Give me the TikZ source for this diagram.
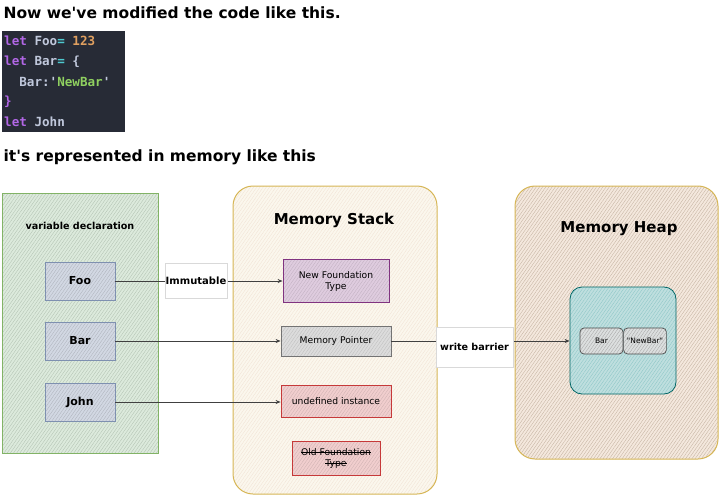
\documentclass[tikz,border=0pt]{standalone}
\usepackage{fontspec}
\setmainfont{DejaVu Sans}[Ligatures=TeXOff]
\setmonofont{DejaVu Sans Mono}
\usetikzlibrary{patterns.meta,arrows.meta}

\definecolor{codebg}{HTML}{272B36}
\definecolor{kwpurple}{HTML}{B267E6}
\definecolor{idgray}{HTML}{C0C8DC}
\definecolor{opcyan}{HTML}{4EC9D0}
\definecolor{numorange}{HTML}{E0A060}
\definecolor{strgreen}{HTML}{8FD060}
\definecolor{varcol}{HTML}{7E90B0}
\definecolor{goldline}{HTML}{D6B656}
\definecolor{greenline}{HTML}{82B366}
\colorlet{newcol}{violet!60!gray}
\colorlet{ptrcol}{black!55}
\colorlet{redcol}{red!55!gray}

\newcommand{\strk}[1]{\setbox0\hbox{#1}\rlap{\copy0}\rule[0.3em]{\wd0}{0.5pt}}

\tikzset{
  hatch/.style 2 args={preaction={fill=#1},
    pattern={Lines[angle=55,distance=2.6pt,line width=0.35pt]}, pattern color=#2},
  varbox/.style={draw=#1, line width=0.9pt, hatch={#1!35}{#1!60!black!45},
    minimum width=70pt, minimum height=38pt, font=\bfseries\fontsize{11}{13}\selectfont},
  stackbox/.style={draw=#1, line width=0.8pt, hatch={#1!25}{#1!60!black!35},
    align=center, font=\fontsize{9.2}{11}\selectfont},
  edgelabel/.style={draw=black!15, fill=white, font=\bfseries\fontsize{10}{12}\selectfont},
  arr/.style={-{Stealth[length=5pt,width=4pt]}, line width=0.8pt, draw=black!75},
}

\begin{document}
\begin{tikzpicture}[x=1pt,y=-1pt]
  \useasboundingbox (0,0) rectangle (720,495);

  % text above
  \node[anchor=west, font=\bfseries\fontsize{15.5}{18}\selectfont] (head) at (0,13)
    {Now we've modified the code like this.};
  \node[anchor=west, font=\bfseries\fontsize{15.5}{18}\selectfont] (sub) at (0,157)
    {it's represented in memory like this};

  % code snippet
  \fill[codebg] (2,31) rectangle (125,132);
  \begin{scope}[every node/.style={anchor=west, inner sep=0pt,
      font=\ttfamily\bfseries\fontsize{12.6}{14}\selectfont}]
    \node (l1) at (4,41) {\textcolor{kwpurple}{let} \textcolor{idgray}{Foo}\textcolor{opcyan}{=} \textcolor{numorange}{123}};
    \node (l2) at (4,61.5) {\textcolor{kwpurple}{let} \textcolor{idgray}{Bar}\textcolor{opcyan}{=} \textcolor{idgray}{\{}};
    \node (l3) at (4,82) {\textcolor{idgray}{\ \ Bar:}\textcolor{idgray}{'}\textcolor{strgreen}{NewBar}\textcolor{idgray}{'}};
    \node (l4) at (4,102) {\textcolor{kwpurple}{\}}};
    \node (l5) at (4,122) {\textcolor{kwpurple}{let} \textcolor{idgray}{John}};
  \end{scope}

  % panels
  \draw[draw=greenline, line width=0.8pt, hatch={green!25!gray!22}{green!20!black!30}]
    (2,193) rectangle (158,453);
  \node[font=\bfseries\fontsize{9.6}{11}\selectfont] (vardecl) at (80,226) {variable declaration};
  \draw[draw=goldline, line width=1pt, rounded corners=20pt,
    hatch={yellow!25!brown!8}{brown!22}] (233,186) rectangle (437,494);
  \node[font=\bfseries\fontsize{15}{17}\selectfont] (stack) at (334,220) {Memory Stack};
  \draw[draw=goldline, line width=1pt, rounded corners=20pt,
    hatch={brown!18!white}{brown!45!gray!60}] (515,186) rectangle (718,459);
  \node[font=\bfseries\fontsize{15}{17}\selectfont] (heap) at (619,229) {Memory Heap};

  % variables
  \node[varbox=varcol] (foo) at (80,281) {Foo};
  \node[varbox=varcol] (bar) at (80,341) {Bar};
  \node[varbox=varcol] (john) at (80,402) {John};

  % stack entries
  \node[stackbox=newcol, minimum width=106pt, minimum height=43pt] (newtype) at (336,281)
    {New Foundation\\Type};
  \node[stackbox=ptrcol, minimum width=110pt, minimum height=30pt] (pointer) at (336,341)
    {Memory Pointer};
  \node[stackbox=redcol, minimum width=110pt, minimum height=32pt] (undef) at (336,401)
    {undefined instance};
  \node[stackbox=redcol, minimum width=88pt, minimum height=34pt] (oldtype) at (336,458)
    {\strk{Old Foundation}\\\strk{Type}};

  % heap object
  \node[draw=teal!80!black, line width=0.8pt, rounded corners=12pt,
    hatch={teal!25!white}{teal!45}, minimum width=106pt, minimum height=107pt]
    (heapobj) at (623,340.5) {};
  \node[draw=black!70, rounded corners=4pt, line width=0.7pt, hatch={teal!10!gray!25}{black!35},
    minimum width=43pt, minimum height=26pt, font=\fontsize{7.5}{9}\selectfont]
    (heapkey) at (601.5,341) {Bar};
  \node[draw=black!70, rounded corners=4pt, line width=0.7pt, hatch={teal!10!gray!25}{black!35},
    minimum width=42pt, minimum height=26pt, font=\fontsize{7.5}{9}\selectfont]
    (heapval) at (645,341) {"NewBar"};

  % connectors
  \draw[arr] (foo) -- (newtype);
  \draw[arr] (bar) -- (pointer);
  \draw[arr] (john.east) -- (undef.west |- john.east);
  \draw[arr] (pointer) -- (heapobj.west |- pointer.east);
  \node[edgelabel, inner sep=1pt, minimum width=62pt, minimum height=35pt] (immut) at (196,281) {Immutable};
  \node[edgelabel, inner sep=1pt, minimum width=77pt, minimum height=40pt, font=\bfseries\fontsize{9.6}{11}\selectfont]
    (wbarrier) at (474.5,347) {write barrier};
\end{tikzpicture}
\end{document}
